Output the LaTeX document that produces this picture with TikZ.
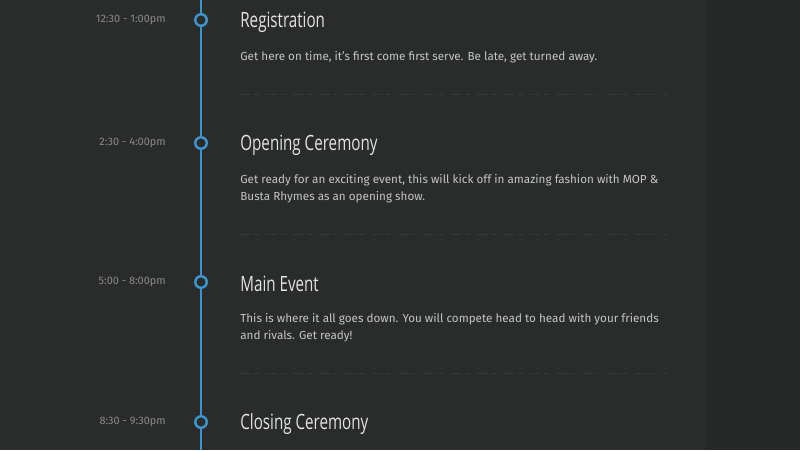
\documentclass[tikz,border=0pt]{standalone}
\usepackage{fontspec}
\setmainfont{Fira Sans}
\newfontfamily\titlefont[FakeStretch=0.72]{Open Sans}
\definecolor{bgleft}{HTML}{2A2B2B}
\definecolor{bgright}{HTML}{262727}
\definecolor{lineblue}{HTML}{3D93CC}
\definecolor{bodygray}{HTML}{C4C4C4}
\definecolor{timegray}{HTML}{8A8A8A}
\definecolor{titlegray}{HTML}{E2E2E2}
\definecolor{sepgray}{HTML}{363737}
\begin{document}
\begin{tikzpicture}[x=0.02cm, y=-0.02cm,
	time/.style={anchor=east, text=timegray, font=\fontsize{6.2}{7}\selectfont, inner sep=0},
	title/.style={anchor=west, text=titlegray, font=\titlefont\fontsize{12}{13}\selectfont, inner sep=0},
	body/.style={anchor=north west, text=bodygray, align=left, font=\fontsize{6.65}{9.6}\selectfont, inner sep=0},
	dot/.style={circle, draw=lineblue, line width=1.4pt, fill=bgleft, minimum size=11.5*0.02cm, inner sep=0},
	sep/.style={draw=sepgray, line width=0.5pt, dash pattern=on 6pt off 2pt on 3pt off 4pt}]
	\fill[bgleft] (0,0) rectangle (705,450);
	\fill[bgright] (705,0) rectangle (800,450);
	\useasboundingbox (0,0) rectangle (800,450);
	% timeline
	\coordinate (top) at (201,0);
	\coordinate (bottom) at (201,450);
	\draw[lineblue, line width=1.7pt] (top) -- (bottom);
	% registration
	\node[dot] (d1) at (201,20) {};
	\node[time] (t1) at (166,20) {12:30 - 1:00pm};
	\node[title] (h1) at (240,22) {Registration};
	\node[body] (b1) at (240,51) {Get here on time, it's first come first serve. Be late, get turned away.};
	\coordinate (s1a) at (240,94); \coordinate (s1b) at (668,94);
	\draw[sep] (s1a) -- (s1b);
	% opening
	\node[dot] (d2) at (201,143) {};
	\node[time] (t2) at (166,143) {2:30 - 4:00pm};
	\node[title] (h2) at (240,145) {Opening Ceremony};
	\node[body] (b2) at (240,174) {Get ready for an exciting event, this will kick off in amazing fashion with MOP \&\\Busta Rhymes as an opening show.};
	\coordinate (s2a) at (240,234); \coordinate (s2b) at (668,234);
	\draw[sep] (s2a) -- (s2b);
	% main
	\node[dot] (d3) at (201,282) {};
	\node[time] (t3) at (166,282) {5:00 - 8:00pm};
	\node[title] (h3) at (240,284) {Main Event};
	\node[body] (b3) at (240,313) {This is where it all goes down. You will compete head to head with your friends\\and rivals. Get ready!};
	\coordinate (s3a) at (240,373); \coordinate (s3b) at (668,373);
	\draw[sep] (s3a) -- (s3b);
	% closing
	\node[dot] (d4) at (201,422) {};
	\node[time] (t4) at (166,422) {8:30 - 9:30pm};
	\node[title] (h4) at (240,424) {Closing Ceremony};
\end{tikzpicture}
\end{document}
